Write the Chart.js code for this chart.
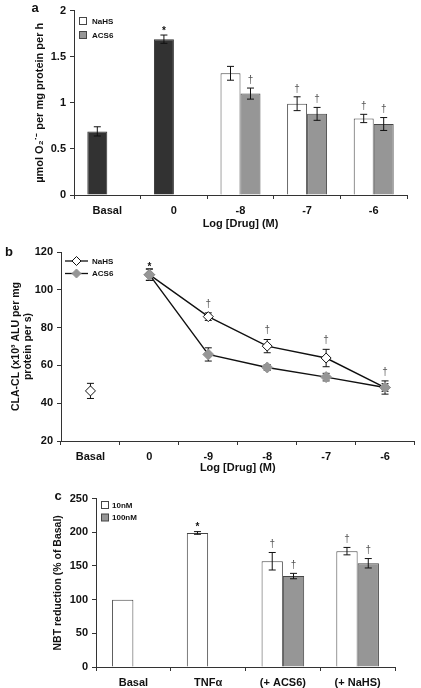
<!DOCTYPE html>
<html><head><meta charset="utf-8">
<script src="https://cdn.jsdelivr.net/npm/chart.js@4"></script>
<style>
html,body{margin:0;padding:0;background:#fff;}
#wrap{position:relative;width:421px;height:688px;overflow:hidden;}
canvas{position:absolute;left:0;}
</style></head><body>
<div id="wrap">
<canvas id="ca" width="421" height="232" style="top:0px"></canvas>
<canvas id="cb" width="421" height="256" style="top:232px"></canvas>
<canvas id="cc" width="421" height="200" style="top:488px"></canvas>
</div>
<script>
// ---------- DATA ----------
// Panel a
const catsA = ['Basal', '0', '-8', '-7', '-6'];
const controlA = [0.69, 1.69, null, null, null];
const controlErrA = [0.05, 0.045, null, null, null];
const controlMarksA = [null, '*', null, null, null];
const nahsA = [null, null, 1.32, 0.99, 0.83];
const nahsErrA = [null, null, 0.075, 0.075, 0.045];
const nahsMarksA = [null, null, null, '†', '†'];
const acs6A = [null, null, 1.10, 0.88, 0.77];
const acs6ErrA = [null, null, 0.06, 0.07, 0.07];
const acs6MarksA = [null, null, '†', '†', '†'];

// Panel b
const catsB = ['Basal', '0', '-9', '-8', '-7', '-6'];
const nahsB = [46.5, 108, 85.8, 70.2, 63.9, 48.3];
const nahsErrB = [4, 3, 2, 3.5, 4.6, 3.5];
const nahsMarksB = [null, null, '†', '†', '†', '†'];
const acs6B = [null, 108, 65.8, 58.9, 53.8, 48.3];
const acs6ErrB = [null, 3, 3.5, 1.5, 2, 2];
const acs6MarksB = [null, '*', null, null, null, null];

// Panel c
const catsC = ['Basal', 'TNFα', '(+ ACS6)', '(+ NaHS)'];
const c10 = [100, 199, 157, 172];
const c10Err = [null, 2, 13, 5.5];
const c10Marks = [null, '*', '†', '†'];
const c100 = [null, null, 135, 154];
const c100Err = [null, null, 4, 7];
const c100Marks = [null, null, '†', '†'];

// ---------- STYLE ----------
const FONT = "'Liberation Sans', Arial, Helvetica, sans-serif";
Chart.defaults.font.family = FONT;
Chart.defaults.font.weight = 'bold';
Chart.defaults.font.size = 11;
Chart.defaults.color = '#111';
Chart.defaults.animation = false;
Chart.defaults.plugins.legend.display = false;
Chart.defaults.plugins.tooltip.enabled = false;

const AX = '#333';
const DARK = 'rgb(50,50,50)';
const GREY = 'rgb(150,150,150)';
const EDGE = 'rgb(70,70,70)';

function drawErrs(chart, behind) {
  const ctx = chart.ctx, y = chart.scales.y;
  chart.data.datasets.forEach((ds, di) => {
    if (!ds.errors || !!ds.errBehind !== behind) return;
    const meta = chart.getDatasetMeta(di);
    ds.data.forEach((v, i) => {
      if (v == null) return;
      const e = ds.errors[i];
      if (e == null) return;
      const x = meta.data[i].x;
      const yt = y.getPixelForValue(v + e), yb = y.getPixelForValue(v - e);
      const cap = ds.cap || 3.5;
      ctx.save();
      ctx.strokeStyle = ds.errColor || '#111';
      ctx.lineWidth = 1;
      ctx.beginPath();
      ctx.moveTo(x, yt); ctx.lineTo(x, yb);
      ctx.moveTo(x - cap, yt); ctx.lineTo(x + cap, yt);
      ctx.moveTo(x - cap, yb); ctx.lineTo(x + cap, yb);
      ctx.stroke();
      ctx.restore();
    });
  });
}
function drawMarks(chart) {
  const ctx = chart.ctx, y = chart.scales.y;
  chart.data.datasets.forEach((ds, di) => {
    if (!ds.marks) return;
    const meta = chart.getDatasetMeta(di);
    ds.data.forEach((v, i) => {
      const m = ds.marks[i];
      if (v == null || !m) return;
      const e = ds.errors ? (ds.errors[i] || 0) : 0;
      const x = meta.data[i].x;
      const yt = y.getPixelForValue(v + e);
      ctx.save();
      ctx.textAlign = 'center';
      ctx.textBaseline = 'bottom';
      if (m === '*') {
        ctx.fillStyle = '#111';
        ctx.font = 'bold 10px ' + FONT;
        ctx.fillText(m, x, yt + (ds.starDy != null ? ds.starDy : 5));
      } else {
        ctx.fillStyle = '#555';
        ctx.font = '10px ' + FONT;
        ctx.fillText(m, x, yt - (ds.dagDy || 3));
      }
      ctx.restore();
    });
  });
}
const errPlugin = {
  id: 'errs',
  beforeDatasetsDraw(chart) { drawErrs(chart, true); },
  afterDatasetsDraw(chart) { drawErrs(chart, false); drawMarks(chart); }
};
const panelPlugin = {
  id: 'panel',
  afterDraw(chart, args, opts) {
    const ctx = chart.ctx;
    ctx.save();
    ctx.fillStyle = '#111';
    ctx.font = 'bold 13px ' + FONT;
    ctx.textAlign = 'center';
    ctx.textBaseline = 'middle';
    ctx.fillText(opts.letter, opts.lx, opts.ly);
    ctx.font = 'bold 8px ' + FONT;
    ctx.textAlign = 'left';
    (opts.items || []).forEach(it => {
      if (it.kind === 'box') {
        ctx.fillStyle = it.fill;
        ctx.strokeStyle = EDGE;
        ctx.lineWidth = 1;
        ctx.fillRect(it.x + 0.5, it.y - 3.5, 7, 7);
        ctx.strokeRect(it.x + 0.5, it.y - 3.5, 7, 7);
      } else {
        ctx.strokeStyle = '#111';
        ctx.lineWidth = 1.3;
        ctx.beginPath(); ctx.moveTo(it.x, it.y); ctx.lineTo(it.x + 23, it.y); ctx.stroke();
        const cx = it.x + 11.5, r = 4.5;
        ctx.beginPath();
        ctx.moveTo(cx, it.y - r); ctx.lineTo(cx + r, it.y); ctx.lineTo(cx, it.y + r); ctx.lineTo(cx - r, it.y); ctx.closePath();
        ctx.fillStyle = it.fill; ctx.fill();
        ctx.strokeStyle = it.stroke; ctx.lineWidth = 1; ctx.stroke();
      }
      ctx.fillStyle = '#111';
      ctx.fillText(it.label, it.tx, it.y + 0.5);
    });
    ctx.restore();
  }
};

function yScale(min, max, step, width, title, tpad, tsize) {
  return {
    min, max,
    afterFit: s => { s.width = width; },
    border: { color: AX, width: 1 },
    grid: { drawOnChartArea: false, drawTicks: true, tickLength: 4, tickColor: AX },
    ticks: { stepSize: step, padding: 4, color: '#111', font: { size: 11, weight: 'bold' },
             callback: v => String(+(+v).toFixed(2)) },
    title: { display: true, text: title, padding: { top: tpad, bottom: 0 }, color: '#111', font: { size: tsize, weight: 'bold' } }
  };
}
function xScale(height, title, tbpad) {
  const s = {
    offset: true,
    afterFit: sc => { sc.height = height; },
    border: { color: AX, width: 1 },
    grid: { offset: true, drawOnChartArea: false, drawTicks: true, tickLength: 4, tickColor: AX },
    ticks: { padding: 5, color: '#111', maxRotation: 0, autoSkip: false, font: { size: 11, weight: 'bold' } }
  };
  if (title) s.title = { display: true, text: title, padding: { top: 0, bottom: tbpad }, color: '#111', font: { size: 11, weight: 'bold' } };
  return s;
}

// ---------- PANEL A ----------
new Chart(document.getElementById('ca'), {
  type: 'bar',
  data: {
    labels: catsA,
    datasets: [
      { label: 'Control', data: controlA, errors: controlErrA, marks: controlMarksA, stack: 's1', starDy: 1,
        backgroundColor: DARK, borderColor: DARK, borderWidth: 1 },
      { label: 'NaHS', data: nahsA, errors: nahsErrA, marks: nahsMarksA, stack: 's1',
        backgroundColor: '#fff', borderColor: EDGE, borderWidth: 1 },
      { label: 'ACS6', data: acs6A, errors: acs6ErrA, marks: acs6MarksA, stack: 's2',
        backgroundColor: GREY, borderColor: EDGE, borderWidth: 1 }
    ]
  },
  options: {
    responsive: false,
    layout: { padding: { left: 0, top: 8, right: 14, bottom: 0 } },
    datasets: { bar: { categoryPercentage: 0.6, barPercentage: 1.0 } },
    scales: {
      x: xScale(37, 'Log [Drug] (M)', 1),
      y: Object.assign(yScale(0, 2, 0.5, 74, 'µmol O₂˙⁻ per mg protein per h', 33, 11), { stacked: true })
    },
    plugins: {
      panel: { letter: 'a', lx: 35, ly: 8, items: [
        { kind: 'box', fill: '#fff', x: 79, y: 21, tx: 92, label: 'NaHS' },
        { kind: 'box', fill: GREY, x: 79, y: 35, tx: 92, label: 'ACS6' }
      ] }
    }
  },
  plugins: [errPlugin, panelPlugin]
});

// ---------- PANEL B ----------
new Chart(document.getElementById('cb'), {
  type: 'line',
  data: {
    labels: catsB,
    datasets: [
      { label: 'NaHS', data: nahsB, errors: nahsErrB, marks: nahsMarksB, errBehind: true, order: 1, dagDy: 4,
        borderColor: '#111', borderWidth: 1.4, backgroundColor: '#fff',
        pointStyle: 'rectRot', pointRadius: 5, pointBackgroundColor: '#fff', pointBorderColor: '#111', pointBorderWidth: 1,
        segment: { borderColor: c => c.p0DataIndex === 0 ? 'rgba(0,0,0,0)' : '#111' } },
      { label: 'ACS6', data: acs6B, errors: acs6ErrB, marks: acs6MarksB, errBehind: true, order: 0, starDy: 3,
        borderColor: '#111', borderWidth: 1.4, backgroundColor: GREY,
        pointStyle: 'rectRot', pointRadius: 5.5, pointBackgroundColor: GREY, pointBorderColor: GREY, pointBorderWidth: 1 }
    ]
  },
  options: {
    responsive: false,
    layout: { padding: { left: 0, top: 20, right: 3, bottom: 0 } },
    scales: {
      x: xScale(47, 'Log [Drug] (M)', 13),
      y: yScale(20, 120, 20, 61, ['CLA-CL (x10³ ALU per mg', 'protein per s)'], 9.7, 10.5)
    },
    plugins: {
      panel: { letter: 'b', lx: 9, ly: 20, items: [
        { kind: 'line', fill: '#fff', stroke: '#111', x: 65, y: 29, tx: 92, label: 'NaHS' },
        { kind: 'line', fill: GREY, stroke: GREY, x: 65, y: 41.5, tx: 92, label: 'ACS6' }
      ] }
    }
  },
  plugins: [errPlugin, panelPlugin]
});

// ---------- PANEL C ----------
new Chart(document.getElementById('cc'), {
  type: 'bar',
  data: {
    labels: catsC,
    datasets: [
      { label: '10nM', data: c10, errors: c10Err, marks: c10Marks, starDy: 1,
        backgroundColor: '#fff', borderColor: EDGE, borderWidth: 1 },
      { label: '100nM', data: c100, errors: c100Err, marks: c100Marks,
        backgroundColor: GREY, borderColor: EDGE, borderWidth: 1 }
    ]
  },
  options: {
    responsive: false,
    layout: { padding: { left: 0, top: 8, right: 26, bottom: 0 } },
    datasets: { bar: { categoryPercentage: 0.57, barPercentage: 1.0 } },
    scales: {
      x: xScale(21, null, 0),
      y: yScale(0, 250, 50, 96, 'NBT reduction (% of Basal)', 51.7, 10.5)
    },
    plugins: {
      panel: { letter: 'c', lx: 58, ly: 8, items: [
        { kind: 'box', fill: '#fff', x: 101, y: 17, tx: 112, label: '10nM' },
        { kind: 'box', fill: GREY, x: 101, y: 29.5, tx: 112, label: '100nM' }
      ] }
    }
  },
  plugins: [errPlugin, panelPlugin]
});
</script>
</body></html>
